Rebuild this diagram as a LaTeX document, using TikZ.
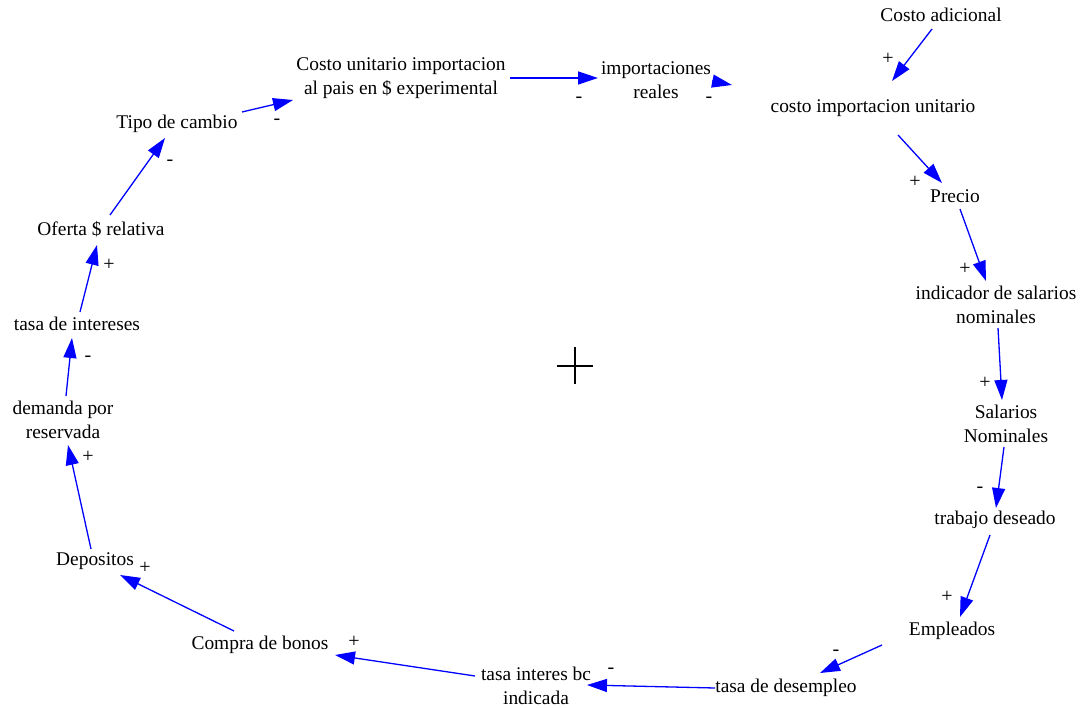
\documentclass[tikz,border=0pt]{standalone}
\usepackage{fontspec}
\setmainfont{Liberation Serif}
\usetikzlibrary{arrows.meta}
\begin{document}
\begin{tikzpicture}[x=1pt,y=-1pt,
  var/.style={font=\fontsize{19.4}{24}\selectfont,align=center,inner sep=0pt},
  sgn/.style={font=\fontsize{20}{22}\selectfont,inner sep=0pt},
  link/.style={draw={rgb,255:red,0;green,0;blue,255},line width=1.3pt,
    -{Triangle[length=20pt,width=13pt]}}]
\useasboundingbox (0,0) rectangle (1083,708);
\node[var] (ca) at (941,15) {Costo adicional};
\node[var] (ciu) at (873,108) {costo importacion unitario};
\node[var] (pr) at (955,196) {Precio};
\node[var] (ind) at (996,305) {indicador de salarios\\nominales};
\node[var] (sal) at (1006,424) {Salarios\\Nominales};
\node[var] (tr) at (995,520) {trabajo deseado};
\node[var] (emp) at (952,631) {Empleados};
\node[var] (td) at (786,688) {tasa de desempleo};
\node[var] (tib) at (536,686) {tasa interes bc\\indicada};
\node[var] (cb) at (260,645) {Compra de bonos};
\node[var] (dep) at (95,561) {Depositos};
\node[var] (dem) at (63,420) {demanda por\\reservada};
\node[var] (ti) at (77,324) {tasa de intereses};
\node[var] (of) at (101,229) {Oferta \$ relativa};
\node[var] (tc) at (177,124) {Tipo de cambio};
\node[var] (cu) at (401,78) {Costo unitario importacion\\al pais en \$ experimental};
\node[var] (im) at (656,80) {importaciones\\reales};

\draw[line width=1.8pt] (557,366) -- (593,366) (575,347) -- (575,384);

\draw[link] ([shift={(-9,14)}]ca.center) -- ([shift={(19,-27)}]ciu.center);
\draw[link] ([shift={(25,27)}]ciu.center) -- ([shift={(-13,-13)}]pr.center);
\draw[link] ([shift={(5,13)}]pr.center) -- ([shift={(-10,-24)}]ind.center);
\draw[link] ([shift={(2,23)}]ind.center) -- ([shift={(-4,-24)}]sal.center);
\draw[link] ([shift={(-2,23)}]sal.center) -- ([shift={(1,-12)}]tr.center);
\draw[link] ([shift={(-5,15)}]tr.center) -- ([shift={(8,-14)}]emp.center);
\draw[link] ([shift={(-70,14)}]emp.center) -- ([shift={(34,-15)}]td.center);
\draw[link] ([shift={(-71,0)}]td.center) -- ([shift={(51,-1)}]tib.center);
\draw[link] ([shift={(-61,-10)}]tib.center) -- ([shift={(75,10)}]cb.center);
\draw[link] ([shift={(-26,-14)}]cb.center) -- ([shift={(25,14)}]dep.center);
\draw[link] ([shift={(-4,-12)}]dep.center) -- ([shift={(5,25)}]dem.center);
\draw[link] ([shift={(3,-24)}]dem.center) -- ([shift={(-5,14)}]ti.center);
\draw[link] ([shift={(3,-12)}]ti.center) -- ([shift={(-4,16)}]of.center);
\draw[link] ([shift={(9,-14)}]of.center) -- ([shift={(-12,14)}]tc.center);
\draw[link] ([shift={(65,-12)}]tc.center) -- ([shift={(-108,22)}]cu.center);
\draw[link] ([shift={(109,0)}]cu.center) -- ([shift={(-58,-2)}]im.center);
\draw[link] ([shift={(56,1)}]im.center) -- ([shift={(-141,-23)}]ciu.center);

\node[sgn] (s1) at (888,59) {+};
\node[sgn] (s2) at (915,182) {+};
\node[sgn] (s3) at (965,269) {+};
\node[sgn] (s4) at (985,383) {+};
\node[sgn] (s5) at (980,490) {-};
\node[sgn] (s6) at (947,597) {+};
\node[sgn] (s7) at (836,653) {-};
\node[sgn] (s8) at (611,671) {-};
\node[sgn] (s9) at (354,642) {+};
\node[sgn] (s10) at (145,568) {+};
\node[sgn] (s11) at (88,457) {+};
\node[sgn] (s12) at (88,359) {-};
\node[sgn] (s13) at (109,265) {+};
\node[sgn] (s14) at (170,163) {-};
\node[sgn] (s15) at (277,122) {-};
\node[sgn] (s16) at (579,100) {-};
\node[sgn] (s17) at (709,100) {-};
\end{tikzpicture}
\end{document}
